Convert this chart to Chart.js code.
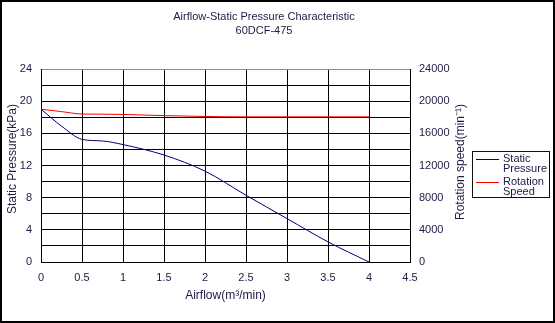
<!DOCTYPE html>
<html>
<head>
<meta charset="utf-8">
<script src="https://cdn.jsdelivr.net/npm/chart.js@4/dist/chart.umd.min.js"></script>
<style>
html,body{margin:0;padding:0;background:#fff;}
#wrap{width:555px;height:323px;position:relative;}
</style>
</head>
<body>
<div id="wrap"><canvas id="c" width="555" height="323"></canvas></div>
<script>
// ---- data ----
const airflow = [0, 0.25, 0.5, 0.75, 1, 1.5, 2, 2.5, 3, 3.5, 4];
const staticPressure = [19.0, 16.9, 15.25, 15.05, 14.6, 13.3, 11.3, 8.3, 5.4, 2.5, 0];
const rotationSpeed = [19000, 18700, 18400, 18380, 18350, 18200, 18100, 18050, 18050, 18050, 18050];
const titleLines = ['Airflow-Static Pressure Characteristic', '60DCF-475'];
const seriesNames = [['Static', 'Pressure'], ['Rotation', 'Speed']];
const xTitle = 'Airflow(m\u00B3/min)';
const yTitle = 'Static Pressure(kPa)';
const y1Title = 'Rotation speed(min\u207B\u00B9)';

const FONT = '"Liberation Sans", Arial, sans-serif';
const TXT = '#1c1c44';
const BLUE = '#000080';
const RED = '#ff0000';

const pts = (ys) => airflow.map((x, i) => ({x: x, y: ys[i]}));

const framePlugin = {
  id: 'frame',
  beforeDraw(chart) {
    const ctx = chart.ctx;
    ctx.save();
    ctx.fillStyle = '#fff';
    ctx.fillRect(0, 0, chart.width, chart.height);
    ctx.restore();
  },
  afterDraw(chart) {
    const ctx = chart.ctx;
    ctx.save();
    // outer frame
    ctx.strokeStyle = '#000';
    ctx.lineWidth = 2;
    ctx.strokeRect(1, 1, chart.width - 2, chart.height - 2);
    // y axis titles
    ctx.fillStyle = TXT;
    ctx.font = '12px ' + FONT;
    ctx.textAlign = 'center';
    ctx.textBaseline = 'middle';
    ctx.save();
    ctx.translate(13, 159);
    ctx.rotate(-Math.PI / 2);
    ctx.fillText(yTitle, 0, 0);
    ctx.restore();
    ctx.save();
    ctx.translate(461, 162);
    ctx.rotate(-Math.PI / 2);
    ctx.fillText(y1Title, 0, 0);
    ctx.restore();
    // legend
    const lx = 472.5, ly = 151.5, lw = 77, lh = 46;
    ctx.lineWidth = 1;
    ctx.strokeStyle = '#111';
    ctx.strokeRect(lx, ly, lw, lh);
    const cols = [BLUE, RED];
    const rows = [[159, 169], [182, 192]];
    ctx.font = '11px ' + FONT;
    ctx.textAlign = 'left';
    for (let i = 0; i < 2; i++) {
      ctx.strokeStyle = cols[i];
      ctx.beginPath();
      ctx.moveTo(476, rows[i][0] + 0.5);
      ctx.lineTo(499, rows[i][0] + 0.5);
      ctx.stroke();
      ctx.fillStyle = TXT;
      ctx.fillText(seriesNames[i][0], 503, rows[i][0]);
      ctx.fillText(seriesNames[i][1], 503, rows[i][1]);
    }
    ctx.restore();
  }
};

new Chart(document.getElementById('c'), {
  type: 'line',
  data: {
    datasets: [
      {label: 'Static Pressure', data: pts(staticPressure), yAxisID: 'y', borderColor: BLUE, borderWidth: 1, pointRadius: 0, cubicInterpolationMode: 'monotone', fill: false},
      {label: 'Rotation Speed', data: pts(rotationSpeed), yAxisID: 'y1', borderColor: RED, borderWidth: 1, pointRadius: 0, cubicInterpolationMode: 'monotone', fill: false}
    ]
  },
  options: {
    responsive: false,
    animation: false,
    events: [],
    layout: {padding: {left: 0, right: 27, top: 0, bottom: 0}},
    plugins: {
      legend: {display: false},
      tooltip: {enabled: false},
      title: {
        display: true,
        text: titleLines,
        color: TXT,
        font: {family: FONT, size: 11, weight: 'normal', lineHeight: '14px'},
        padding: {top: 10, bottom: 31}
      }
    },
    scales: {
      x: {
        type: 'linear', min: 0, max: 4.5,
        afterFit(s) { s.height = 61; },
        ticks: {stepSize: 0.5, color: TXT, font: {family: FONT, size: 11}, padding: 9, maxRotation: 0,
          callback: (v) => String(Math.round(v * 10) / 10)},
        grid: {color: '#000', lineWidth: 1, drawTicks: false},
        border: {color: '#000', width: 1},
        title: {display: true, text: xTitle, color: TXT, font: {family: FONT, size: 12}, padding: {top: 0, bottom: 20}}
      },
      y: {
        type: 'linear', position: 'left', min: 0, max: 24,
        afterFit(s) { s.width = 41; },
        ticks: {stepSize: 2, color: TXT, font: {family: FONT, size: 11}, padding: 9, autoSkip: false,
          callback: (v) => (v % 4 === 0 ? String(v) : '')},
        grid: {color: (c) => (c.tick && c.tick.value === 24 ? '#8c8c8c' : '#000'), lineWidth: 1, drawTicks: false},
        border: {color: '#000', width: 1}
      },
      y1: {
        type: 'linear', position: 'right', min: 0, max: 24000,
        afterFit(s) { s.width = 118; },
        ticks: {stepSize: 2000, color: TXT, font: {family: FONT, size: 11}, padding: 9, autoSkip: false,
          callback: (v) => (v % 4000 === 0 ? String(v) : '')},
        grid: {drawOnChartArea: false, drawTicks: false},
        border: {color: '#000', width: 1}
      }
    }
  },
  plugins: [framePlugin]
});
</script>
</body>
</html>
